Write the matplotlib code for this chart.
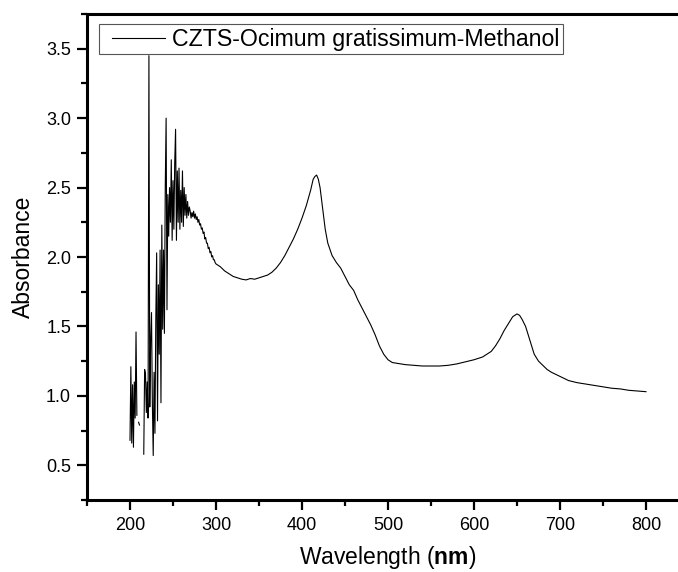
import numpy as np
import matplotlib.pyplot as plt
from matplotlib.ticker import MultipleLocator
from matplotlib.lines import Line2D
from matplotlib.legend_handler import HandlerLine2D

plt.rcParams['font.family'] = ['Liberation Sans', 'DejaVu Sans']
plt.rcParams['mathtext.fontset'] = 'custom'
plt.rcParams['mathtext.rm'] = 'Liberation Sans'
plt.rcParams['mathtext.bf'] = 'Liberation Sans:bold'

series_label = 'CZTS-Ocimum gratissimum-Methanol'

# noisy UV end, 1 nm steps (nan = no data shown)
wl_uv = list(range(200, 301))
abs_uv = [0.68, 1.21, 0.66, 1.08, 0.63, 1.10, 0.84, 1.46, 0.86, np.nan,
          0.81, 0.79, np.nan, np.nan, np.nan, np.nan, 0.58, 1.19, 1.16, 0.88,
          1.10, 0.84, 3.45, 0.92, 1.40, 1.60, 0.95, 0.57, 1.17, 0.73,
          1.55, 2.03, 0.82, 1.80, 1.30, 2.05, 0.95, 2.23, 1.48, 2.05,
          1.45, 2.50, 3.00, 1.62, 2.45, 2.15, 2.50, 2.25, 2.70, 2.12,
          2.55, 2.20, 2.68, 2.92, 2.12, 2.62, 2.25, 2.64, 2.20, 2.48,
          2.25, 2.62, 2.22, 2.50, 2.30, 2.45, 2.28, 2.40, 2.30, 2.36,
          2.33, 2.28, 2.32, 2.29, 2.33, 2.28, 2.31, 2.27, 2.29, 2.25,
          2.27, 2.23, 2.24, 2.20, 2.21, 2.17, 2.18, 2.13, 2.14, 2.10,
          2.10, 2.06, 2.07, 2.03, 2.04, 2.00, 2.01, 1.98, 1.98, 1.96,
          1.95]

# smoother visible region
wl_vis = [305, 310, 315, 320, 325, 330, 335, 340, 345, 350, 355, 360, 365,
          370, 375, 380, 385, 390, 395, 400, 405, 410, 413, 415, 417, 419,
          421, 424, 427, 430, 435, 440, 445, 450, 455, 460, 465, 470, 475,
          480, 485, 490, 495, 500, 505, 510, 520, 530, 540, 550, 560, 570,
          580, 590, 600, 605, 610, 615, 620, 625, 630, 635, 640, 645, 650,
          653, 656, 660, 665, 670, 675, 680, 685, 690, 695, 700, 710, 720,
          730, 740, 750, 760, 770, 780, 790, 800]
abs_vis = [1.93, 1.90, 1.88, 1.86, 1.85, 1.84, 1.835, 1.845, 1.84, 1.85,
           1.86, 1.87, 1.89, 1.92, 1.96, 2.01, 2.07, 2.13, 2.20, 2.28,
           2.37, 2.48, 2.56, 2.58, 2.59, 2.56, 2.50, 2.35, 2.20, 2.10,
           2.01, 1.96, 1.92, 1.86, 1.80, 1.76, 1.69, 1.63, 1.57, 1.51,
           1.44, 1.36, 1.30, 1.26, 1.24, 1.235, 1.225, 1.22, 1.215, 1.215,
           1.215, 1.22, 1.23, 1.245, 1.26, 1.27, 1.28, 1.30, 1.32, 1.36,
           1.41, 1.47, 1.52, 1.57, 1.59, 1.58, 1.55, 1.50, 1.40, 1.30,
           1.25, 1.22, 1.19, 1.17, 1.155, 1.14, 1.11, 1.095, 1.085, 1.075,
           1.065, 1.055, 1.05, 1.04, 1.035, 1.03]

wl = wl_uv + wl_vis
absorb = abs_uv + abs_vis

fig = plt.figure(figsize=(6.78, 5.72), dpi=100)
ax = fig.add_axes([87 / 678, 1 - 500 / 572, 602 / 678, 486 / 572])

ax.plot(wl, absorb, color='black', lw=0.8, label=series_label)

ax.set_xlim(150, 850)
ax.set_ylim(0.25, 3.75)
ax.xaxis.set_minor_locator(MultipleLocator(50))
ax.yaxis.set_minor_locator(MultipleLocator(0.25))
ax.set_xticks([200, 300, 400, 500, 600, 700, 800])
ax.set_yticks([0.5, 1.0, 1.5, 2.0, 2.5, 3.0, 3.5])

for s in ax.spines.values():
    s.set_linewidth(2.2)

ax.tick_params(which='major', length=7.5, width=1.6, labelsize=13)
ax.tick_params(which='minor', length=4.5, width=1.6)
ax.tick_params(axis='y', pad=4)
ax.tick_params(axis='x', pad=5)

ax.set_xlabel(r'Wavelength ($\mathbf{nm}$)', fontsize=16.5, labelpad=7)
ax.set_ylabel('Absorbance', fontsize=16.5, labelpad=8)

leg = ax.legend(loc='upper left', bbox_to_anchor=(0.02, 0.979), borderaxespad=0,
                fontsize=16.7, frameon=True, fancybox=False, handlelength=2.69,
                handletextpad=0.3, borderpad=0.15, framealpha=1,
                handler_map={Line2D: HandlerLine2D(xpad=0.41)})
leg.get_frame().set_edgecolor('#555555')
leg.get_frame().set_linewidth(0.8)

fig.savefig('out.png', dpi=100)
